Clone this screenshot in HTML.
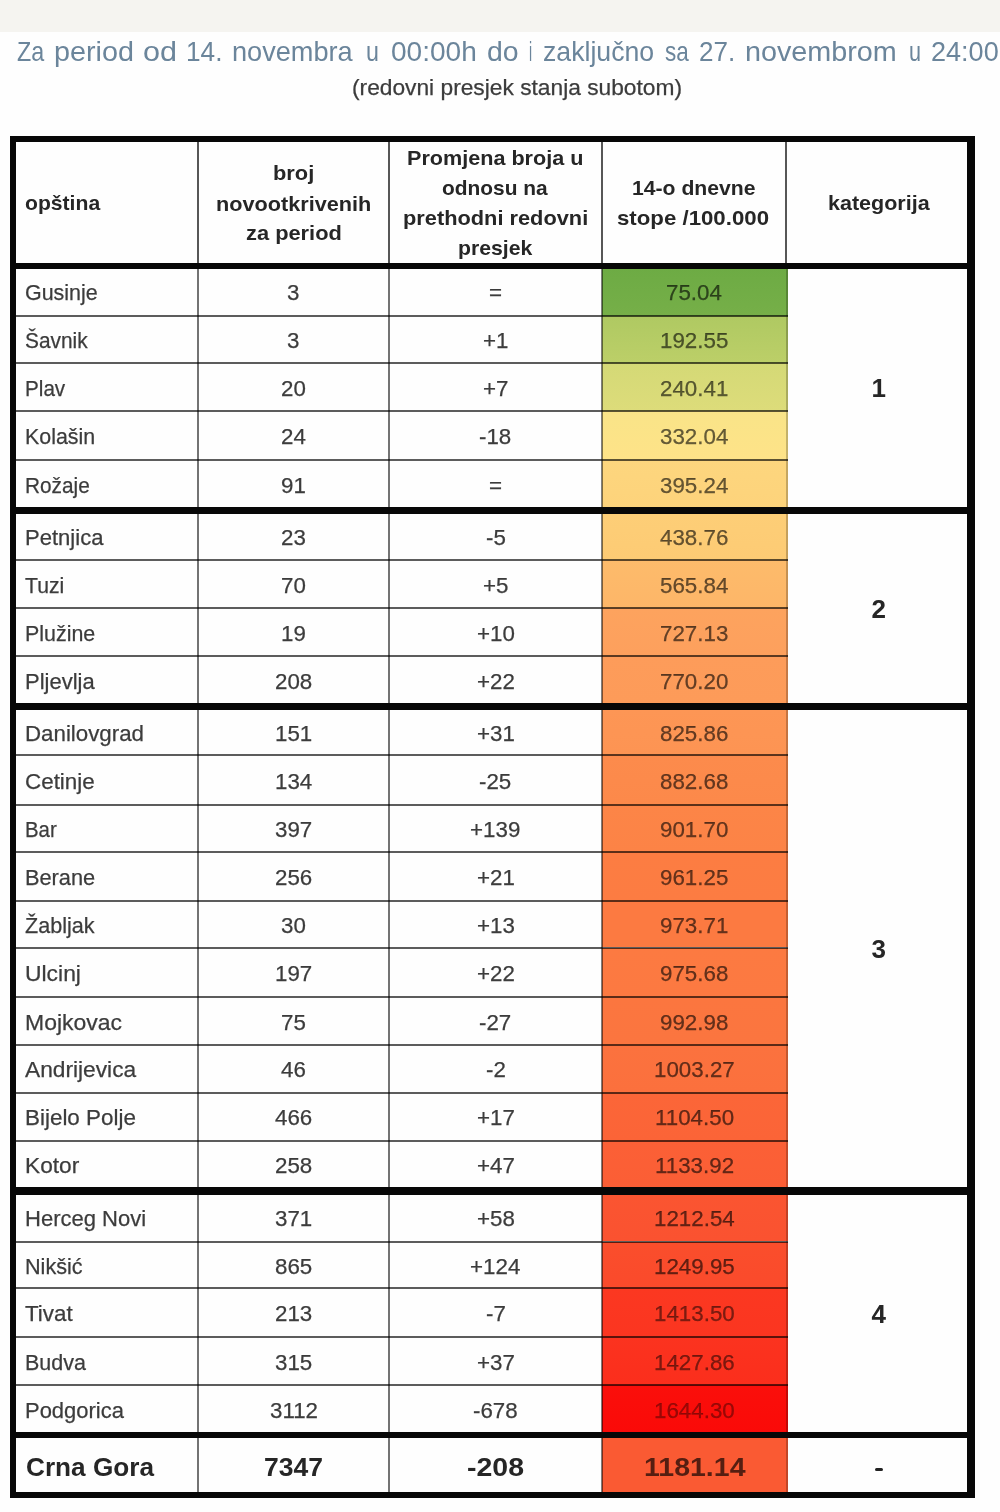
<!DOCTYPE html>
<html><head><meta charset="utf-8"><title>t</title>
<style>
html,body{margin:0;padding:0}
body{width:1000px;height:1512px;position:relative;overflow:hidden;background:#fefefe;font-family:"Liberation Sans",sans-serif;color:#3c3c3c}
div{position:absolute;box-sizing:border-box}
.t{white-space:nowrap;line-height:1;transform-origin:0 0;filter:blur(0.4px);-webkit-text-stroke:0.25px}
.b{font-weight:bold;color:#262626;-webkit-text-stroke:0}
.k{background:#070707;filter:blur(0.45px)}
.h{background:rgba(0,0,0,0.64);filter:blur(0.4px)}
.v{background:rgba(0,0,0,0.55);filter:blur(0.5px)}
.w{background:rgba(0,0,0,0.66);filter:blur(0.4px)}
</style></head><body>

<div style="left:0;top:0;width:1000px;height:32px;background:#f5f4f0"></div>
<div class="t" style="left:17.00px;top:38px;font-size:27.5px;transform:scaleX(0.8472);color:#6b859b;-webkit-text-stroke:0">Za</div>
<div class="t" style="left:54.40px;top:38px;font-size:27.5px;transform:scaleX(1.0451);color:#6b859b;-webkit-text-stroke:0">period</div>
<div class="t" style="left:142.80px;top:38px;font-size:27.5px;transform:scaleX(1.1113);color:#6b859b;-webkit-text-stroke:0">od</div>
<div class="t" style="left:186.30px;top:38px;font-size:27.5px;transform:scaleX(0.9523);color:#6b859b;-webkit-text-stroke:0">14.</div>
<div class="t" style="left:231.90px;top:38px;font-size:27.5px;transform:scaleX(0.9869);color:#6b859b;-webkit-text-stroke:0">novembra</div>
<div class="t" style="left:366.20px;top:38px;font-size:27.5px;transform:scaleX(0.8452);color:#6b859b;-webkit-text-stroke:0">u</div>
<div class="t" style="left:391.00px;top:38px;font-size:27.5px;transform:scaleX(1.0193);color:#6b859b;-webkit-text-stroke:0">00:00h</div>
<div class="t" style="left:486.90px;top:38px;font-size:27.5px;transform:scaleX(1.0329);color:#6b859b;-webkit-text-stroke:0">do</div>
<div class="t" style="left:529.20px;top:38px;font-size:27.5px;transform:scaleX(0.5066);color:#6b859b;-webkit-text-stroke:0">i</div>
<div class="t" style="left:543.10px;top:38px;font-size:27.5px;transform:scaleX(0.9697);color:#6b859b;-webkit-text-stroke:0">zaključno</div>
<div class="t" style="left:664.50px;top:38px;font-size:27.5px;transform:scaleX(0.8184);color:#6b859b;-webkit-text-stroke:0">sa</div>
<div class="t" style="left:698.80px;top:38px;font-size:27.5px;transform:scaleX(0.9470);color:#6b859b;-webkit-text-stroke:0">27.</div>
<div class="t" style="left:744.70px;top:38px;font-size:27.5px;transform:scaleX(1.0455);color:#6b859b;-webkit-text-stroke:0">novembrom</div>
<div class="t" style="left:908.50px;top:38px;font-size:27.5px;transform:scaleX(0.7862);color:#6b859b;-webkit-text-stroke:0">u</div>
<div class="t" style="left:931.00px;top:38px;font-size:27.5px;transform:scaleX(0.9837);color:#6b859b;-webkit-text-stroke:0">24:00</div>
<div class="t" style="left:351.80px;top:77px;font-size:22px;transform:scaleX(1.0339);color:#3c3c3c">(redovni presjek stanja subotom)</div>
<div style="left:602.0px;top:268.20px;width:186.30px;height:47.40px;background:linear-gradient(#6dab44,#76af48)"></div>
<div style="left:602.0px;top:315.60px;width:186.30px;height:47.70px;background:linear-gradient(#afc962,#bccf68)"></div>
<div style="left:602.0px;top:363.30px;width:186.30px;height:48.00px;background:linear-gradient(#d4d976,#dddc7a)"></div>
<div style="left:602.0px;top:411.30px;width:186.30px;height:48.70px;background:linear-gradient(#f9e488,#fee388)"></div>
<div style="left:602.0px;top:460.00px;width:186.30px;height:47.00px;background:linear-gradient(#fdd67e,#fdd37b)"></div>
<div style="left:602.0px;top:513.50px;width:186.30px;height:46.50px;background:linear-gradient(#fdce77,#fdcb74)"></div>
<div style="left:602.0px;top:560.00px;width:186.30px;height:48.00px;background:linear-gradient(#fdbb6b,#fdb668)"></div>
<div style="left:602.0px;top:608.00px;width:186.30px;height:48.00px;background:linear-gradient(#fda35e,#fda05d)"></div>
<div style="left:602.0px;top:656.00px;width:186.30px;height:47.50px;background:linear-gradient(#fd9c5a,#fd9b59)"></div>
<div style="left:602.0px;top:709.10px;width:186.30px;height:46.20px;background:linear-gradient(#fd9655,#fd9453)"></div>
<div style="left:602.0px;top:755.30px;width:186.30px;height:49.70px;background:linear-gradient(#fc8b4c,#fc894a)"></div>
<div style="left:602.0px;top:805.00px;width:186.30px;height:47.00px;background:linear-gradient(#fc8547,#fc8346)"></div>
<div style="left:602.0px;top:852.00px;width:186.30px;height:49.20px;background:linear-gradient(#fc7d42,#fc7c42)"></div>
<div style="left:602.0px;top:901.20px;width:186.30px;height:46.30px;background:linear-gradient(#fc7a41,#fc7a41)"></div>
<div style="left:602.0px;top:947.50px;width:186.30px;height:49.30px;background:linear-gradient(#fc7a41,#fc7941)"></div>
<div style="left:602.0px;top:996.80px;width:186.30px;height:48.00px;background:linear-gradient(#fb763f,#fb753f)"></div>
<div style="left:602.0px;top:1044.80px;width:186.30px;height:47.80px;background:linear-gradient(#fb723e,#fb703d)"></div>
<div style="left:602.0px;top:1092.60px;width:186.30px;height:48.20px;background:linear-gradient(#fb6638,#fb6437)"></div>
<div style="left:602.0px;top:1140.80px;width:186.30px;height:47.10px;background:linear-gradient(#fb6036,#fb5e35)"></div>
<div style="left:602.0px;top:1194.30px;width:186.30px;height:47.20px;background:linear-gradient(#fa5531,#fa5230)"></div>
<div style="left:602.0px;top:1241.50px;width:186.30px;height:46.90px;background:linear-gradient(#fa4e2c,#fa4a2b)"></div>
<div style="left:602.0px;top:1288.40px;width:186.30px;height:48.40px;background:linear-gradient(#fb3821,#fb3520)"></div>
<div style="left:602.0px;top:1336.80px;width:186.30px;height:48.40px;background:linear-gradient(#fb331f,#fb2e1c)"></div>
<div style="left:602.0px;top:1385.20px;width:186.30px;height:47.50px;background:linear-gradient(#fa0f0b,#fa0a08)"></div>
<div style="left:602.0px;top:1437.70px;width:186.30px;height:54.80px;background:linear-gradient(#fa5a33,#fa5a33)"></div>
<div class="w" style="left:197.25px;top:141px;width:1.9px;height:123.20px"></div>
<div class="v" style="left:197.05px;top:268.7px;width:2.3px;height:1224.30px"></div>
<div class="w" style="left:387.75px;top:141px;width:1.9px;height:123.20px"></div>
<div class="v" style="left:387.55px;top:268.7px;width:2.3px;height:1224.30px"></div>
<div class="w" style="left:601.15px;top:141px;width:1.9px;height:123.20px"></div>
<div class="w" style="left:601.10px;top:268.7px;width:2.0px;height:1224.30px;background:rgba(0,0,0,0.5)"></div>
<div class="w" style="left:785.05px;top:141px;width:1.9px;height:123.20px"></div>
<div class="v" style="left:786.00px;top:268.7px;width:2.2px;height:1224.30px;background:rgba(0,0,0,0.22)"></div>
<div class="h" style="left:15.1px;top:314.60px;width:773.10px;height:2.00px"></div>
<div class="h" style="left:15.1px;top:362.30px;width:773.10px;height:2.00px"></div>
<div class="h" style="left:15.1px;top:410.30px;width:773.10px;height:2.00px"></div>
<div class="h" style="left:15.1px;top:459.00px;width:773.10px;height:2.00px"></div>
<div class="h" style="left:15.1px;top:559.00px;width:773.10px;height:2.00px"></div>
<div class="h" style="left:15.1px;top:607.00px;width:773.10px;height:2.00px"></div>
<div class="h" style="left:15.1px;top:655.00px;width:773.10px;height:2.00px"></div>
<div class="h" style="left:15.1px;top:754.30px;width:773.10px;height:2.00px"></div>
<div class="h" style="left:15.1px;top:804.00px;width:773.10px;height:2.00px"></div>
<div class="h" style="left:15.1px;top:851.00px;width:773.10px;height:2.00px"></div>
<div class="h" style="left:15.1px;top:900.20px;width:773.10px;height:2.00px"></div>
<div class="h" style="left:15.1px;top:946.50px;width:773.10px;height:2.00px"></div>
<div class="h" style="left:15.1px;top:995.80px;width:773.10px;height:2.00px"></div>
<div class="h" style="left:15.1px;top:1043.80px;width:773.10px;height:2.00px"></div>
<div class="h" style="left:15.1px;top:1091.60px;width:773.10px;height:2.00px"></div>
<div class="h" style="left:15.1px;top:1139.80px;width:773.10px;height:2.00px"></div>
<div class="h" style="left:15.1px;top:1240.50px;width:773.10px;height:2.00px"></div>
<div class="h" style="left:15.1px;top:1287.40px;width:773.10px;height:2.00px"></div>
<div class="h" style="left:15.1px;top:1335.80px;width:773.10px;height:2.00px"></div>
<div class="h" style="left:15.1px;top:1384.20px;width:773.10px;height:2.00px"></div>
<div class="k" style="left:9.7px;top:136px;width:965.30px;height:6.00px"></div>
<div class="k" style="left:9.7px;top:263.2px;width:965.30px;height:5.50px"></div>
<div class="k" style="left:9.7px;top:506.5px;width:965.30px;height:7.50px"></div>
<div class="k" style="left:9.7px;top:703px;width:965.30px;height:6.60px"></div>
<div class="k" style="left:9.7px;top:1187.4px;width:965.30px;height:7.40px"></div>
<div class="k" style="left:9.7px;top:1432.2px;width:965.30px;height:6.00px"></div>
<div class="k" style="left:9.7px;top:1492px;width:965.30px;height:6.20px"></div>
<div class="k" style="left:9.7px;top:136px;width:5.90px;height:1362.20px"></div>
<div class="k" style="left:967.3px;top:136px;width:7.70px;height:1362.20px"></div>
<div class="t b" style="left:25.00px;top:192px;font-size:21px;transform:scaleX(1.0065)">opština</div>
<div class="t b" style="left:272.96px;top:162px;font-size:21px;transform:scaleX(1.0400)">broj</div>
<div class="t b" style="left:216.00px;top:193px;font-size:21px;transform:scaleX(1.0311)">novootkrivenih</div>
<div class="t b" style="left:245.66px;top:222px;font-size:21px;transform:scaleX(1.0400)">za period</div>
<div class="t b" style="left:407.20px;top:147px;font-size:21px;transform:scaleX(1.0282)">Promjena broja u</div>
<div class="t b" style="left:442.40px;top:177px;font-size:21px;transform:scaleX(0.9952)">odnosu na</div>
<div class="t b" style="left:402.80px;top:207px;font-size:21px;transform:scaleX(1.0375)">prethodni redovni</div>
<div class="t b" style="left:458.20px;top:237px;font-size:21px;transform:scaleX(1.0108)">presjek</div>
<div class="t b" style="left:632.30px;top:177px;font-size:21px;transform:scaleX(1.0079)">14-o dnevne</div>
<div class="t b" style="left:617.10px;top:207px;font-size:21px;transform:scaleX(1.0586)">stope /100.000</div>
<div class="t b" style="left:828.00px;top:192px;font-size:21px;transform:scaleX(1.0249)">kategorija</div>
<div class="t" style="left:25.30px;top:282px;font-size:22px;transform:scaleX(0.9748)">Gusinje</div>
<div class="t" style="left:287.40px;top:282px;font-size:22px;transform:scaleX(1.0150)">3</div>
<div class="t" style="left:488.97px;top:282px;font-size:22px;transform:scaleX(1.0150)">=</div>
<div class="t" style="left:666.26px;top:282px;font-size:22px;transform:scaleX(1.0150);color:rgba(0,0,0,0.6)">75.04</div>
<div class="t" style="left:25.30px;top:330px;font-size:22px;transform:scaleX(0.9484)">Šavnik</div>
<div class="t" style="left:287.40px;top:330px;font-size:22px;transform:scaleX(1.0150)">3</div>
<div class="t" style="left:482.77px;top:330px;font-size:22px;transform:scaleX(1.0150)">+1</div>
<div class="t" style="left:660.06px;top:330px;font-size:22px;transform:scaleX(1.0150);color:rgba(0,0,0,0.6)">192.55</div>
<div class="t" style="left:25.30px;top:378px;font-size:22px;transform:scaleX(0.9395)">Plav</div>
<div class="t" style="left:281.18px;top:378px;font-size:22px;transform:scaleX(1.0150)">20</div>
<div class="t" style="left:482.77px;top:378px;font-size:22px;transform:scaleX(1.0150)">+7</div>
<div class="t" style="left:660.06px;top:378px;font-size:22px;transform:scaleX(1.0150);color:rgba(0,0,0,0.6)">240.41</div>
<div class="t" style="left:25.30px;top:426px;font-size:22px;transform:scaleX(0.9728)">Kolašin</div>
<div class="t" style="left:281.18px;top:426px;font-size:22px;transform:scaleX(1.0150)">24</div>
<div class="t" style="left:479.37px;top:426px;font-size:22px;transform:scaleX(1.0150)">-18</div>
<div class="t" style="left:660.06px;top:426px;font-size:22px;transform:scaleX(1.0150);color:rgba(0,0,0,0.6)">332.04</div>
<div class="t" style="left:25.30px;top:475px;font-size:22px;transform:scaleX(0.9449)">Rožaje</div>
<div class="t" style="left:281.18px;top:475px;font-size:22px;transform:scaleX(1.0150)">91</div>
<div class="t" style="left:488.97px;top:475px;font-size:22px;transform:scaleX(1.0150)">=</div>
<div class="t" style="left:660.06px;top:475px;font-size:22px;transform:scaleX(1.0150);color:rgba(0,0,0,0.6)">395.24</div>
<div class="t" style="left:25.30px;top:527px;font-size:22px;transform:scaleX(1.0017)">Petnjica</div>
<div class="t" style="left:281.18px;top:527px;font-size:22px;transform:scaleX(1.0150)">23</div>
<div class="t" style="left:485.56px;top:527px;font-size:22px;transform:scaleX(1.0150)">-5</div>
<div class="t" style="left:660.06px;top:527px;font-size:22px;transform:scaleX(1.0150);color:rgba(0,0,0,0.6)">438.76</div>
<div class="t" style="left:25.30px;top:575px;font-size:22px;transform:scaleX(0.9618)">Tuzi</div>
<div class="t" style="left:281.18px;top:575px;font-size:22px;transform:scaleX(1.0150)">70</div>
<div class="t" style="left:482.77px;top:575px;font-size:22px;transform:scaleX(1.0150)">+5</div>
<div class="t" style="left:660.06px;top:575px;font-size:22px;transform:scaleX(1.0150);color:rgba(0,0,0,0.6)">565.84</div>
<div class="t" style="left:25.30px;top:623px;font-size:22px;transform:scaleX(0.9728)">Plužine</div>
<div class="t" style="left:281.18px;top:623px;font-size:22px;transform:scaleX(1.0150)">19</div>
<div class="t" style="left:476.55px;top:623px;font-size:22px;transform:scaleX(1.0150)">+10</div>
<div class="t" style="left:660.06px;top:623px;font-size:22px;transform:scaleX(1.0150);color:rgba(0,0,0,0.6)">727.13</div>
<div class="t" style="left:25.30px;top:671px;font-size:22px;transform:scaleX(0.9994)">Pljevlja</div>
<div class="t" style="left:274.98px;top:671px;font-size:22px;transform:scaleX(1.0150)">208</div>
<div class="t" style="left:476.55px;top:671px;font-size:22px;transform:scaleX(1.0150)">+22</div>
<div class="t" style="left:660.06px;top:671px;font-size:22px;transform:scaleX(1.0150);color:rgba(0,0,0,0.6)">770.20</div>
<div class="t" style="left:25.30px;top:723px;font-size:22px;transform:scaleX(1.0134)">Danilovgrad</div>
<div class="t" style="left:274.98px;top:723px;font-size:22px;transform:scaleX(1.0150)">151</div>
<div class="t" style="left:476.55px;top:723px;font-size:22px;transform:scaleX(1.0150)">+31</div>
<div class="t" style="left:660.06px;top:723px;font-size:22px;transform:scaleX(1.0150);color:rgba(0,0,0,0.6)">825.86</div>
<div class="t" style="left:25.30px;top:771px;font-size:22px;transform:scaleX(1.0179)">Cetinje</div>
<div class="t" style="left:274.98px;top:771px;font-size:22px;transform:scaleX(1.0150)">134</div>
<div class="t" style="left:479.37px;top:771px;font-size:22px;transform:scaleX(1.0150)">-25</div>
<div class="t" style="left:660.06px;top:771px;font-size:22px;transform:scaleX(1.0150);color:rgba(0,0,0,0.6)">882.68</div>
<div class="t" style="left:25.30px;top:819px;font-size:22px;transform:scaleX(0.9266)">Bar</div>
<div class="t" style="left:274.98px;top:819px;font-size:22px;transform:scaleX(1.0150)">397</div>
<div class="t" style="left:470.35px;top:819px;font-size:22px;transform:scaleX(1.0150)">+139</div>
<div class="t" style="left:660.06px;top:819px;font-size:22px;transform:scaleX(1.0150);color:rgba(0,0,0,0.6)">901.70</div>
<div class="t" style="left:25.30px;top:867px;font-size:22px;transform:scaleX(0.9894)">Berane</div>
<div class="t" style="left:274.98px;top:867px;font-size:22px;transform:scaleX(1.0150)">256</div>
<div class="t" style="left:476.55px;top:867px;font-size:22px;transform:scaleX(1.0150)">+21</div>
<div class="t" style="left:660.06px;top:867px;font-size:22px;transform:scaleX(1.0150);color:rgba(0,0,0,0.6)">961.25</div>
<div class="t" style="left:25.30px;top:915px;font-size:22px;transform:scaleX(0.9816)">Žabljak</div>
<div class="t" style="left:281.18px;top:915px;font-size:22px;transform:scaleX(1.0150)">30</div>
<div class="t" style="left:476.55px;top:915px;font-size:22px;transform:scaleX(1.0150)">+13</div>
<div class="t" style="left:660.06px;top:915px;font-size:22px;transform:scaleX(1.0150);color:rgba(0,0,0,0.6)">973.71</div>
<div class="t" style="left:25.30px;top:963px;font-size:22px;transform:scaleX(1.0402)">Ulcinj</div>
<div class="t" style="left:274.98px;top:963px;font-size:22px;transform:scaleX(1.0150)">197</div>
<div class="t" style="left:476.55px;top:963px;font-size:22px;transform:scaleX(1.0150)">+22</div>
<div class="t" style="left:660.06px;top:963px;font-size:22px;transform:scaleX(1.0150);color:rgba(0,0,0,0.6)">975.68</div>
<div class="t" style="left:25.30px;top:1012px;font-size:22px;transform:scaleX(1.0442)">Mojkovac</div>
<div class="t" style="left:281.18px;top:1012px;font-size:22px;transform:scaleX(1.0150)">75</div>
<div class="t" style="left:479.37px;top:1012px;font-size:22px;transform:scaleX(1.0150)">-27</div>
<div class="t" style="left:660.06px;top:1012px;font-size:22px;transform:scaleX(1.0150);color:rgba(0,0,0,0.6)">992.98</div>
<div class="t" style="left:25.30px;top:1059px;font-size:22px;transform:scaleX(1.0331)">Andrijevica</div>
<div class="t" style="left:281.18px;top:1059px;font-size:22px;transform:scaleX(1.0150)">46</div>
<div class="t" style="left:485.56px;top:1059px;font-size:22px;transform:scaleX(1.0150)">-2</div>
<div class="t" style="left:653.84px;top:1059px;font-size:22px;transform:scaleX(1.0150);color:rgba(0,0,0,0.6)">1003.27</div>
<div class="t" style="left:25.30px;top:1107px;font-size:22px;transform:scaleX(1.0189)">Bijelo Polje</div>
<div class="t" style="left:274.98px;top:1107px;font-size:22px;transform:scaleX(1.0150)">466</div>
<div class="t" style="left:476.55px;top:1107px;font-size:22px;transform:scaleX(1.0150)">+17</div>
<div class="t" style="left:654.68px;top:1107px;font-size:22px;transform:scaleX(1.0150);color:rgba(0,0,0,0.6)">1104.50</div>
<div class="t" style="left:25.30px;top:1155px;font-size:22px;transform:scaleX(1.0308)">Kotor</div>
<div class="t" style="left:274.98px;top:1155px;font-size:22px;transform:scaleX(1.0150)">258</div>
<div class="t" style="left:476.55px;top:1155px;font-size:22px;transform:scaleX(1.0150)">+47</div>
<div class="t" style="left:654.68px;top:1155px;font-size:22px;transform:scaleX(1.0150);color:rgba(0,0,0,0.6)">1133.92</div>
<div class="t" style="left:25.30px;top:1208px;font-size:22px;transform:scaleX(1.0004)">Herceg Novi</div>
<div class="t" style="left:274.98px;top:1208px;font-size:22px;transform:scaleX(1.0150)">371</div>
<div class="t" style="left:476.55px;top:1208px;font-size:22px;transform:scaleX(1.0150)">+58</div>
<div class="t" style="left:653.84px;top:1208px;font-size:22px;transform:scaleX(1.0150);color:rgba(0,0,0,0.6)">1212.54</div>
<div class="t" style="left:25.30px;top:1256px;font-size:22px;transform:scaleX(0.9832)">Nikšić</div>
<div class="t" style="left:274.98px;top:1256px;font-size:22px;transform:scaleX(1.0150)">865</div>
<div class="t" style="left:470.35px;top:1256px;font-size:22px;transform:scaleX(1.0150)">+124</div>
<div class="t" style="left:653.84px;top:1256px;font-size:22px;transform:scaleX(1.0150);color:rgba(0,0,0,0.6)">1249.95</div>
<div class="t" style="left:25.30px;top:1303px;font-size:22px;transform:scaleX(1.0179)">Tivat</div>
<div class="t" style="left:274.98px;top:1303px;font-size:22px;transform:scaleX(1.0150)">213</div>
<div class="t" style="left:485.56px;top:1303px;font-size:22px;transform:scaleX(1.0150)">-7</div>
<div class="t" style="left:653.84px;top:1303px;font-size:22px;transform:scaleX(1.0150);color:rgba(0,0,0,0.5)">1413.50</div>
<div class="t" style="left:25.30px;top:1352px;font-size:22px;transform:scaleX(0.9764)">Budva</div>
<div class="t" style="left:274.98px;top:1352px;font-size:22px;transform:scaleX(1.0150)">315</div>
<div class="t" style="left:476.55px;top:1352px;font-size:22px;transform:scaleX(1.0150)">+37</div>
<div class="t" style="left:653.84px;top:1352px;font-size:22px;transform:scaleX(1.0150);color:rgba(0,0,0,0.5)">1427.86</div>
<div class="t" style="left:25.30px;top:1400px;font-size:22px;transform:scaleX(0.9984)">Podgorica</div>
<div class="t" style="left:269.60px;top:1400px;font-size:22px;transform:scaleX(1.0150)">3112</div>
<div class="t" style="left:473.14px;top:1400px;font-size:22px;transform:scaleX(1.0150)">-678</div>
<div class="t" style="left:653.84px;top:1400px;font-size:22px;transform:scaleX(1.0150);color:rgba(0,0,0,0.38)">1644.30</div>
<div class="t b" style="left:25.80px;top:1454px;font-size:26px;transform:scaleX(1.0068)">Crna Gora</div>
<div class="t b" style="left:263.50px;top:1454px;font-size:26px;transform:scaleX(1.0199)">7347</div>
<div class="t b" style="left:467.00px;top:1454px;font-size:26px;transform:scaleX(1.0948)">-208</div>
<div class="t b" style="left:643.50px;top:1454px;font-size:26px;transform:scaleX(1.0966);color:rgba(0,0,0,0.66)">1181.14</div>
<div class="t b" style="left:871.38px;top:375px;font-size:26px;transform:scaleX(1.0000)">1</div>
<div class="t b" style="left:871.38px;top:596px;font-size:26px;transform:scaleX(1.0000)">2</div>
<div class="t b" style="left:871.38px;top:936px;font-size:26px;transform:scaleX(1.0000)">3</div>
<div class="t b" style="left:871.38px;top:1301px;font-size:26px;transform:scaleX(1.0000)">4</div>
<div style="left:874.5px;top:1467.6px;width:8.6px;height:3.4px;border-radius:1.7px;background:#222;filter:blur(0.5px)"></div>
</body></html>
